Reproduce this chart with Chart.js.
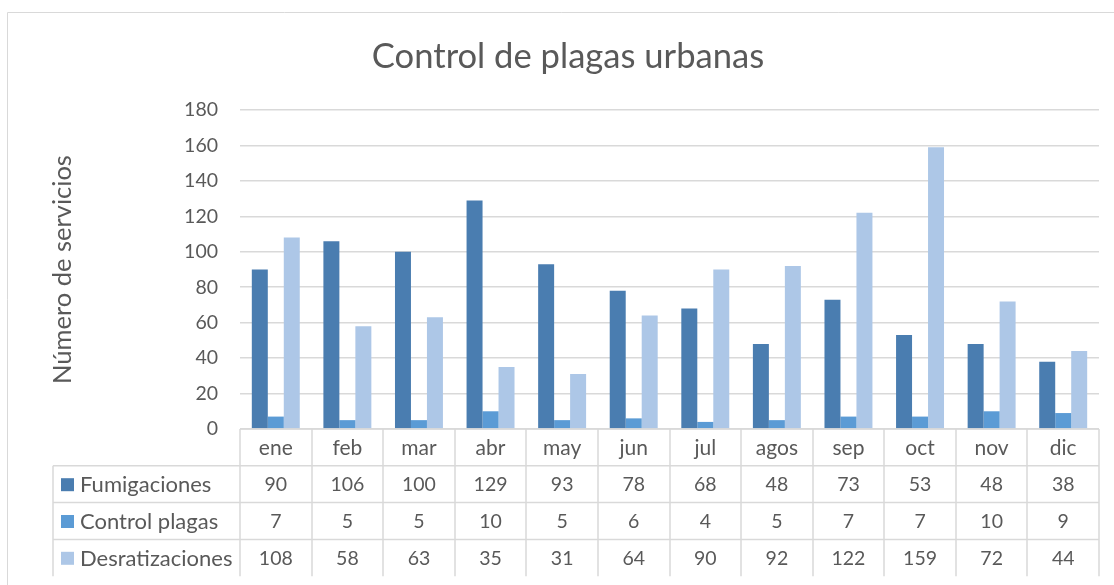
<!DOCTYPE html>
<html>
<head>
<meta charset="utf-8">
<script src="https://cdn.jsdelivr.net/npm/chart.js@4"></script>
<style>
  html, body { margin: 0; padding: 0; background: #fff; }
  #wrap { width: 1114px; height: 585px; }
</style>
</head>
<body>
<div id="wrap"><canvas id="myChart" width="1114" height="585"></canvas></div>
<script>
const meses = ["ene", "feb", "mar", "abr", "may", "jun", "jul", "agos", "sep", "oct", "nov", "dic"];
const fumigaciones = [90, 106, 100, 129, 93, 78, 68, 48, 73, 53, 48, 38];
const controlPlagas = [7, 5, 5, 10, 5, 6, 4, 5, 7, 7, 10, 9];
const desratizaciones = [108, 58, 63, 35, 31, 64, 90, 92, 122, 159, 72, 44];

const textColor = "#595959";
const lineColor = "#d9d9d9";
const fontName = "Lato";

// dibuja la tabla de datos debajo del grafico, como en excel
const dataTable = {
  id: "dataTable",
  afterDraw(chart) {
    const ctx = chart.ctx;
    const x = chart.scales.x;
    const area = chart.chartArea;
    const rowH = 36.8;
    const top = area.bottom;
    const tableLeft = 53;
    const bottom = top + rowH * 4;
    const half = (x.getPixelForValue(1) - x.getPixelForValue(0)) / 2;

    ctx.save();
    // borde exterior del grafico
    ctx.strokeStyle = lineColor;
    ctx.lineWidth = 1;
    ctx.beginPath();
    ctx.moveTo(7.5, 600);
    ctx.lineTo(7.5, 12.5);
    ctx.lineTo(1200, 12.5);
    ctx.stroke();

    ctx.lineWidth = 1.5;
    ctx.beginPath();
    // lineas horizontales
    ctx.moveTo(area.left, top);
    ctx.lineTo(area.right, top);
    for (let r = 1; r <= 3; r++) {
      ctx.moveTo(tableLeft, top + rowH * r);
      ctx.lineTo(area.right, top + rowH * r);
    }
    // lineas verticales
    ctx.moveTo(tableLeft, top + rowH);
    ctx.lineTo(tableLeft, bottom);
    for (let i = 0; i <= meses.length; i++) {
      const px = Math.round(x.getPixelForValue(i) - half);
      ctx.moveTo(px, top);
      ctx.lineTo(px, bottom);
    }
    ctx.stroke();

    ctx.font = "21px " + fontName;
    ctx.fillStyle = textColor;
    ctx.textAlign = "center";
    ctx.textBaseline = "middle";
    meses.forEach((m, i) => {
      ctx.fillText(m, x.getPixelForValue(i), top + rowH / 2 + 1);
    });

    chart.data.datasets.forEach((ds, r) => {
      const cy = top + rowH * (r + 1) + rowH / 2 + 1;
      ctx.fillStyle = ds.backgroundColor;
      ctx.fillRect(61, cy - 7, 13, 13);
      ctx.fillStyle = textColor;
      ctx.textAlign = "left";
      ctx.font = "22px " + fontName;
      ctx.fillText(ds.label, 80, cy);
      ctx.textAlign = "center";
      ctx.font = "19.5px " + fontName;
      ds.data.forEach((v, i) => {
        ctx.fillText(String(v), x.getPixelForValue(i), cy);
      });
    });
    ctx.restore();
  },
};

const ctx = document.getElementById("myChart");
new Chart(ctx, {
  type: "bar",
  data: {
    labels: meses,
    datasets: [
      { label: "Fumigaciones", data: fumigaciones, backgroundColor: "#4a7db0" },
      { label: "Control plagas", data: controlPlagas, backgroundColor: "#5b9bd5" },
      { label: "Desratizaciones", data: desratizaciones, backgroundColor: "#adc7e7" },
    ],
  },
  options: {
    responsive: false,
    animation: false,
    categoryPercentage: 0.67,
    barPercentage: 1,
    layout: { padding: { left: 37, right: 15, top: 0, bottom: 156 } },
    scales: {
      x: { display: false },
      y: {
        min: 0,
        max: 180,
        ticks: {
          stepSize: 20,
          padding: 22,
          color: textColor,
          font: { family: fontName, size: 19.5 },
        },
        grid: { color: lineColor, lineWidth: 1.5, drawTicks: false },
        border: { display: false },
        title: {
          display: true,
          text: "Número de servicios",
          color: textColor,
          font: { family: fontName, size: 25.5 },
          padding: { top: 10, bottom: 0 },
        },
        afterFit(scale) {
          scale.width = 203;
        },
      },
    },
    plugins: {
      legend: { display: false },
      tooltip: { enabled: false },
      title: {
        display: true,
        text: "Control de plagas urbanas",
        color: textColor,
        font: { family: fontName, size: 34.6, weight: "normal" },
        padding: { top: 36, bottom: 32.5 },
      },
    },
  },
  plugins: [dataTable],
});
</script>
</body>
</html>
